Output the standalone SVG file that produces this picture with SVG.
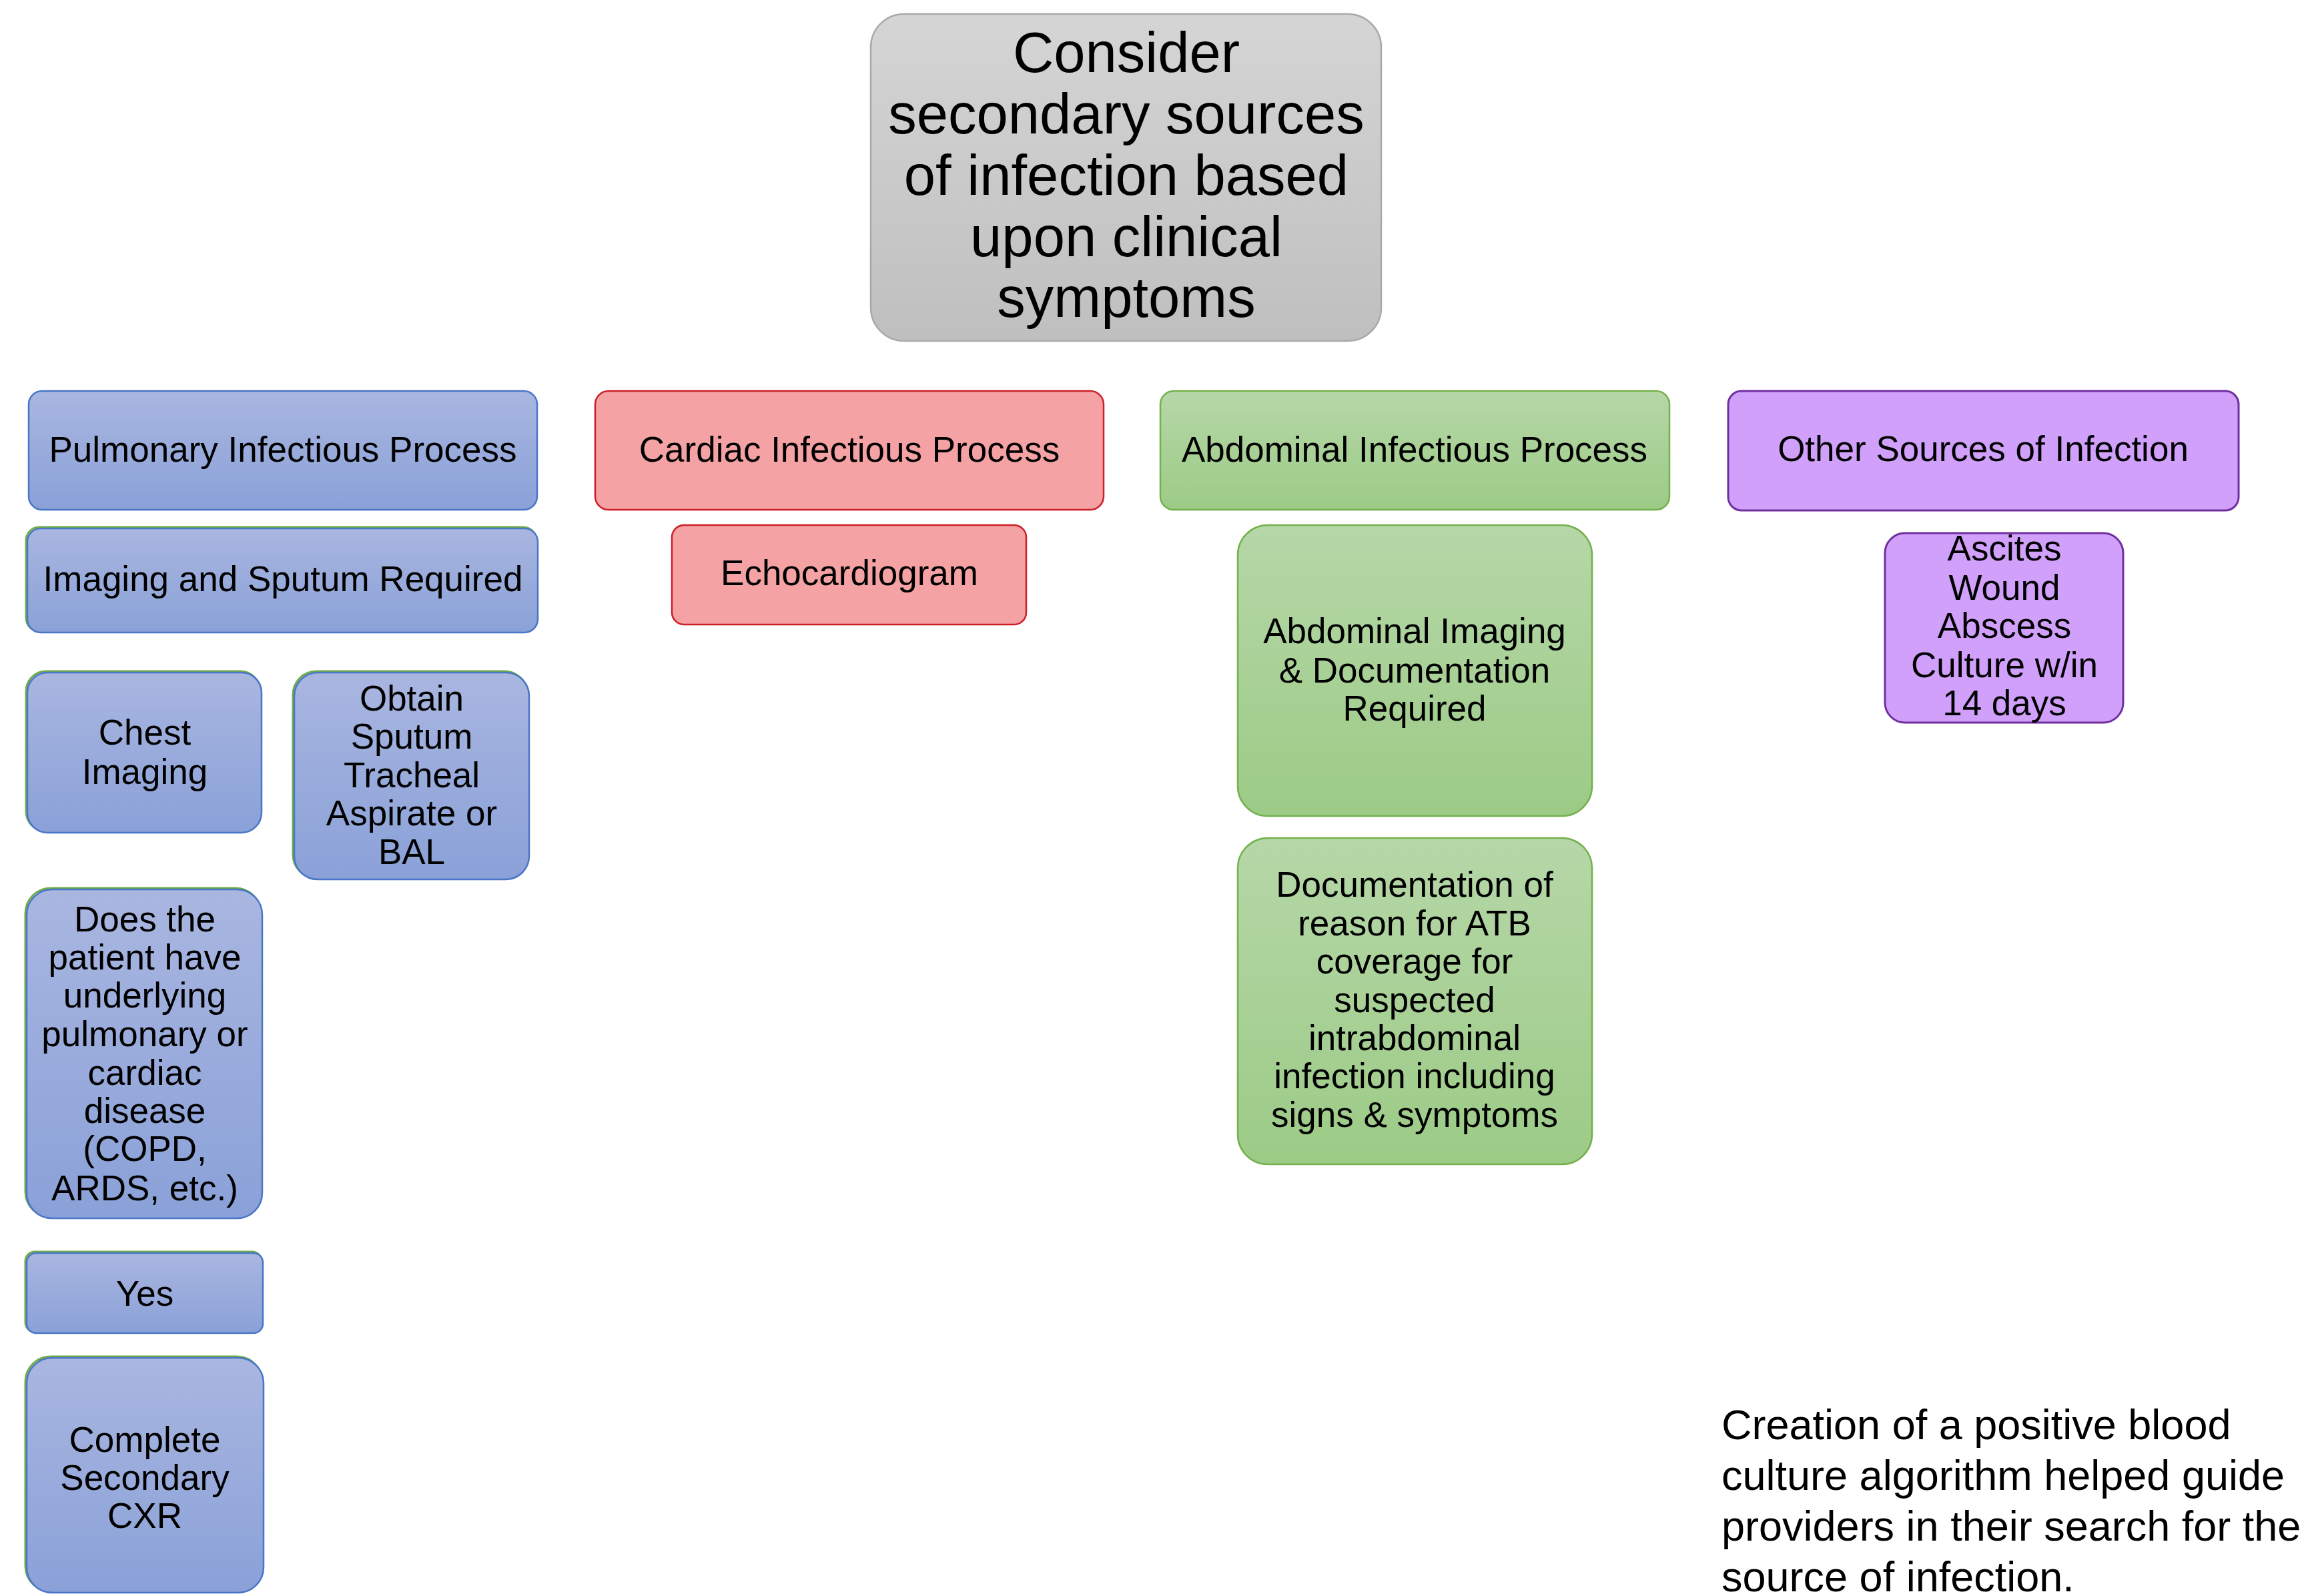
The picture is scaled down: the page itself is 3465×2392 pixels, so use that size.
<svg xmlns="http://www.w3.org/2000/svg" width="3465" height="2392" viewBox="0 0 3465 2392">
<style>
text{font-family:"Liberation Sans",Arial,sans-serif;fill:#000;text-anchor:middle}
.t{font-size:53px}
.big{font-size:85px}
.note{font-size:63px;text-anchor:start}
.blue{fill:url(#gBlue);stroke:#4a76c6;stroke-width:2.5}
.gshadow{fill:none;stroke:#70ad47;stroke-width:3}
.red{fill:#f4a2a4;stroke:#cc1f27;stroke-width:2.5}
.green{fill:url(#gGreen);stroke:#74b04c;stroke-width:2.5}
.purple{fill:#d0a0fb;stroke:#7030a0;stroke-width:3}
.gray{fill:url(#gGray);stroke:#a9a9a9;stroke-width:2.5}
</style>
<defs>
<linearGradient id="gBlue" x1="0" y1="0" x2="0" y2="1"><stop offset="0" stop-color="#a9b6e0"/><stop offset="1" stop-color="#8aa1d8"/></linearGradient>
<linearGradient id="gGreen" x1="0" y1="0" x2="0" y2="1"><stop offset="0" stop-color="#b6d7a8"/><stop offset="1" stop-color="#9ccb86"/></linearGradient>
<linearGradient id="gGray" x1="0" y1="0" x2="0" y2="1"><stop offset="0" stop-color="#d5d5d5"/><stop offset="1" stop-color="#bfbfbf"/></linearGradient>
</defs>
<rect width="3465" height="2392" fill="#fff"/>
<g id="connectors"></g>

<g id="n-top">
<rect class="gray" x="1305" y="21" width="765" height="490" rx="50"/>
<text class="big" x="1688" y="108">Consider</text>
<text class="big" x="1688" y="200">secondary sources</text>
<text class="big" x="1688" y="292">of infection based</text>
<text class="big" x="1688" y="384">upon clinical</text>
<text class="big" x="1688" y="475">symptoms</text>
</g>

<g id="n-pulm">
<rect class="blue" x="43" y="586" width="762" height="178" rx="20"/>
<text class="t" x="424" y="692">Pulmonary Infectious Process</text>
</g>
<g id="n-imaging">
<rect class="gshadow" x="39" y="790" width="765" height="156" rx="20"/>
<rect class="blue" x="41" y="792" width="765" height="156" rx="20"/>
<text class="t" x="424" y="886">Imaging and Sputum Required</text>
</g>
<g id="n-chest">
<rect class="gshadow" x="39" y="1006" width="351" height="240" rx="30"/>
<rect class="blue" x="41" y="1008" width="351" height="240" rx="30"/>
<text class="t" x="217" y="1116">Chest</text>
<text class="t" x="217" y="1175">Imaging</text>
</g>
<g id="n-sputum">
<rect class="gshadow" x="439" y="1006" width="352" height="310" rx="35"/>
<rect class="blue" x="441" y="1008" width="352" height="310" rx="35"/>
<text class="t" x="617" y="1065">Obtain</text>
<text class="t" x="617" y="1122">Sputum</text>
<text class="t" x="617" y="1180">Tracheal</text>
<text class="t" x="617" y="1237">Aspirate or</text>
<text class="t" x="617" y="1295">BAL</text>
</g>
<g id="n-does">
<rect class="gshadow" x="38" y="1331" width="353" height="493" rx="38"/>
<rect class="blue" x="40" y="1333" width="353" height="493" rx="38"/>
<text class="t" x="217" y="1396">Does the</text>
<text class="t" x="217" y="1453">patient have</text>
<text class="t" x="217" y="1510">underlying</text>
<text class="t" x="217" y="1568">pulmonary or</text>
<text class="t" x="217" y="1626">cardiac</text>
<text class="t" x="217" y="1683">disease</text>
<text class="t" x="217" y="1740">(COPD,</text>
<text class="t" x="217" y="1799">ARDS, etc.)</text>
</g>
<g id="n-yes">
<rect class="gshadow" x="38" y="1876" width="354" height="120" rx="14"/>
<rect class="blue" x="40" y="1878" width="354" height="120" rx="14"/>
<text class="t" x="217" y="1957">Yes</text>
</g>
<g id="n-cxr">
<rect class="gshadow" x="38" y="2033" width="355" height="352" rx="38"/>
<rect class="blue" x="40" y="2035" width="355" height="352" rx="38"/>
<text class="t" x="217" y="2176">Complete</text>
<text class="t" x="217" y="2233">Secondary</text>
<text class="t" x="217" y="2290">CXR</text>
</g>

<g id="n-cardiac">
<rect class="red" x="892" y="586" width="762" height="178" rx="20"/>
<text class="t" x="1273" y="692">Cardiac Infectious Process</text>
</g>
<g id="n-echo">
<rect class="red" x="1007" y="787" width="531" height="149" rx="18"/>
<text class="t" x="1273" y="877">Echocardiogram</text>
</g>

<g id="n-abd">
<rect class="green" x="1739" y="586" width="763" height="178" rx="20"/>
<text class="t" x="2120" y="692">Abdominal Infectious Process</text>
</g>
<g id="n-abdimg">
<rect class="green" x="1855" y="787" width="531" height="436" rx="45"/>
<text class="t" x="2120" y="964">Abdominal Imaging</text>
<text class="t" x="2120" y="1023">&amp; Documentation</text>
<text class="t" x="2120" y="1080">Required</text>
</g>
<g id="n-doc">
<rect class="green" x="1855" y="1256" width="531" height="489" rx="45"/>
<text class="t" x="2120" y="1344">Documentation of</text>
<text class="t" x="2120" y="1402">reason for ATB</text>
<text class="t" x="2120" y="1459">coverage for</text>
<text class="t" x="2120" y="1517">suspected</text>
<text class="t" x="2120" y="1574">intrabdominal</text>
<text class="t" x="2120" y="1631">infection including</text>
<text class="t" x="2120" y="1689">signs &amp; symptoms</text>
</g>

<g id="n-other">
<rect class="purple" x="2590" y="586" width="765" height="179" rx="20"/>
<text class="t" x="2972" y="691">Other Sources of Infection</text>
</g>
<g id="n-ascites">
<rect class="purple" x="2825" y="799" width="357" height="284" rx="30"/>
<text class="t" x="3004" y="840">Ascites</text>
<text class="t" x="3004" y="899">Wound</text>
<text class="t" x="3004" y="956">Abscess</text>
<text class="t" x="3004" y="1015">Culture w/in</text>
<text class="t" x="3004" y="1072">14 days</text>
</g>

<g id="note">
<text class="note" x="2580" y="2157">Creation of a positive blood</text>
<text class="note" x="2580" y="2233">culture algorithm helped guide</text>
<text class="note" x="2580" y="2309">providers in their search for the</text>
<text class="note" x="2580" y="2385">source of infection.</text>
</g>
</svg>
